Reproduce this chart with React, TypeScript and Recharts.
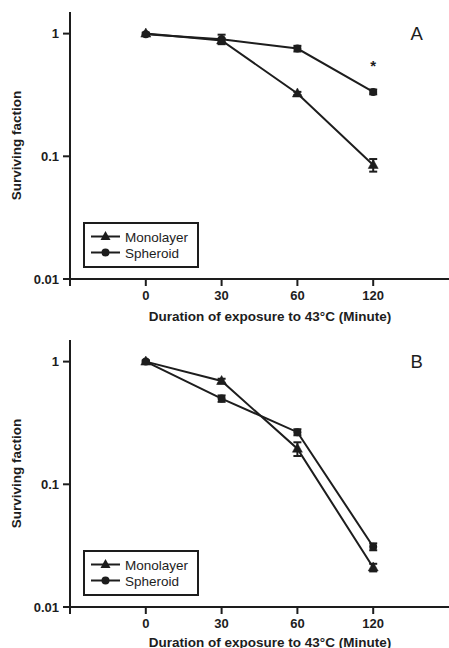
import React from 'react';
import { LineChart, Line, XAxis, YAxis, ErrorBar, Legend, ReferenceDot } from 'recharts';

const FONT = '"Liberation Sans", Arial, Helvetica, sans-serif';
const INK = '#1d1d1d';

const minutes = ['0', '30', '60', '120'];
const xTickPositions = [-1, 0, 1, 2, 3];
const yTicks = [0.01, 0.1, 1];
const seriesNames = ['Monolayer', 'Spheroid'];
const xTitle = 'Duration of exposure to 43\u00B0C (Minute)';
const yTitle = 'Surviving faction';

// Panel A
const monolayerA = [1.0, 0.88, 0.325, 0.085];
const monolayerAErr = [0.02, 0.03, 0.01, 0.01];
const spheroidA = [0.99, 0.9, 0.755, 0.335];
const spheroidAErr = [0.02, 0.08, 0.04, 0.015];

// Panel B
const monolayerB = [1.0, 0.695, 0.195, 0.021];
const monolayerBErr = [0.02, 0.03, 0.025, 0.0015];
const spheroidB = [1.0, 0.5, 0.266, 0.031];
const spheroidBErr = [0.02, 0.03, 0.015, 0.002];

function buildRows(mono: number[], monoErr: number[], sph: number[], sphErr: number[]) {
  return minutes.map((m, i) => ({
    pos: i,
    minute: m,
    mono: mono[i],
    monoErr: monoErr[i],
    sph: sph[i],
    sphErr: sphErr[i],
  }));
}

const dataA = buildRows(monolayerA, monolayerAErr, spheroidA, spheroidAErr);
const dataB = buildRows(monolayerB, monolayerBErr, spheroidB, spheroidBErr);

const TriangleDot = (props: any) => {
  const { cx, cy, index } = props;
  if (cx == null || cy == null) return <g key={`t-${index}`} />;
  return (
    <path
      key={`t-${index}`}
      d={`M${cx},${cy - 5.5} L${cx + 5},${cy + 3.5} L${cx - 5},${cy + 3.5} Z`}
      fill={INK}
      stroke={INK}
      strokeWidth={0.5}
    />
  );
};

const CircleDot = (props: any) => {
  const { cx, cy, index } = props;
  if (cx == null || cy == null) return <g key={`c-${index}`} />;
  return <circle key={`c-${index}`} cx={cx} cy={cy} r={4} fill={INK} />;
};

const LegendBox = () => (
  <div
    style={{
      width: 116,
      height: 46,
      border: `2px solid ${INK}`,
      boxSizing: 'border-box',
      background: '#fff',
      position: 'relative',
    }}
  >
    <svg width={112} height={42} style={{ position: 'absolute', left: 0, top: 0 }}>
      {seriesNames.map((name, i) => {
        const cy = 12.5 + i * 16;
        return (
          <g key={name}>
            <line x1={6} x2={35} y1={cy} y2={cy} stroke={INK} strokeWidth={2} />
            {i === 0 ? (
              <path d={`M20.5,${cy - 5.5} L25.5,${cy + 3.5} L15.5,${cy + 3.5} Z`} fill={INK} />
            ) : (
              <circle cx={20.5} cy={cy} r={4} fill={INK} />
            )}
            <text x={40} y={cy + 5} fontFamily={FONT} fontSize={13.5} fill={INK}>
              {name}
            </text>
          </g>
        );
      })}
    </svg>
  </div>
);

type PanelProps = {
  data: any[];
  letter: string;
  showStar: boolean;
  height: number;
  titleOffset: number;
};

const Panel = ({ data, letter, showStar, height, titleOffset }: PanelProps) => (
  <LineChart
    width={449}
    height={height}
    data={data}
    margin={{ top: 12, right: 0, bottom: 0, left: 0 }}
  >
    <XAxis
      dataKey="pos"
      type="number"
      domain={[-1, 4]}
      ticks={xTickPositions}
      allowDataOverflow
      tickFormatter={(v: number) => (v >= 0 && v < minutes.length ? minutes[v] : '')}
      height={height - 12 - 267}
      stroke={INK}
      strokeWidth={2}
      tickSize={7}
      tickMargin={5}
      tickLine={{ stroke: INK, strokeWidth: 2 }}
      tick={{ fill: INK, fontSize: 13, fontWeight: 'bold', fontFamily: FONT }}
      label={(props: any) => {
        const vb = props.viewBox;
        return (
          <text
            x={vb.x + vb.width / 2 + 10.5}
            y={12 + 267 + titleOffset}
            textAnchor="middle"
            fontFamily={FONT}
            fontWeight="bold"
            fontSize={13.5}
            fill={INK}
          >
            {xTitle}
          </text>
        );
      }}
    />
    <YAxis
      scale="log"
      domain={[0.01, 1.5]}
      ticks={yTicks}
      allowDataOverflow
      width={70}
      stroke={INK}
      strokeWidth={2}
      tickSize={7}
      tickMargin={4}
      tickLine={{ stroke: INK, strokeWidth: 2 }}
      tick={{ fill: INK, fontSize: 13, fontWeight: 'bold', fontFamily: FONT }}
      tickFormatter={(v: number) => String(v)}
      label={(props: any) => {
        const vb = props.viewBox;
        const cy = vb.y + vb.height / 2;
        return (
          <text
            x={20.5}
            y={cy}
            transform={`rotate(-90, 20.5, ${cy})`}
            textAnchor="middle"
            fontFamily={FONT}
            fontWeight="bold"
            fontSize={13.5}
            fill={INK}
          >
            {yTitle}
          </text>
        );
      }}
    />
    <Legend
      layout="horizontal"
      verticalAlign="middle"
      align="center"
      content={() => <LegendBox />}
      wrapperStyle={{ position: 'absolute', left: 83, top: 222, width: 116, height: 46 }}
    />
    <Line
      dataKey="sph"
      name={seriesNames[1]}
      stroke={INK}
      strokeWidth={2}
      dot={CircleDot}
      activeDot={false}
      isAnimationActive={false}
    >
      <ErrorBar dataKey="sphErr" width={4} stroke={INK} strokeWidth={2} direction="y" isAnimationActive={false} />
    </Line>
    <Line
      dataKey="mono"
      name={seriesNames[0]}
      stroke={INK}
      strokeWidth={2}
      dot={TriangleDot}
      activeDot={false}
      isAnimationActive={false}
    >
      <ErrorBar dataKey="monoErr" width={4} stroke={INK} strokeWidth={2} direction="y" isAnimationActive={false} />
    </Line>
    <ReferenceDot
      x={3.575}
      y={1}
      r={0}
      fill="none"
      stroke="none"
      label={{ value: letter, position: 'center', fontSize: 18.5, fill: INK, fontFamily: FONT }}
    />
    {showStar && (
      <ReferenceDot
        x={3}
        y={0.55}
        r={0}
        fill="none"
        stroke="none"
        label={{ value: '*', position: 'center', fontSize: 15, fontWeight: 'bold', fill: INK, fontFamily: FONT }}
      />
    )}
  </LineChart>
);

export default function App() {
  return (
    <div
      style={{
        position: 'absolute',
        left: 0,
        top: 0,
        width: 449,
        height: 648,
        overflow: 'hidden',
        background: '#fff',
      }}
    >
      <div style={{ position: 'absolute', left: 0, top: 0 }}>
        <Panel data={dataA} letter="A" showStar height={324} titleOffset={41.5} />
      </div>
      <div style={{ position: 'absolute', left: 0, top: 328 }}>
        <Panel data={dataB} letter="B" showStar={false} height={320} titleOffset={39.5} />
      </div>
    </div>
  );
}
